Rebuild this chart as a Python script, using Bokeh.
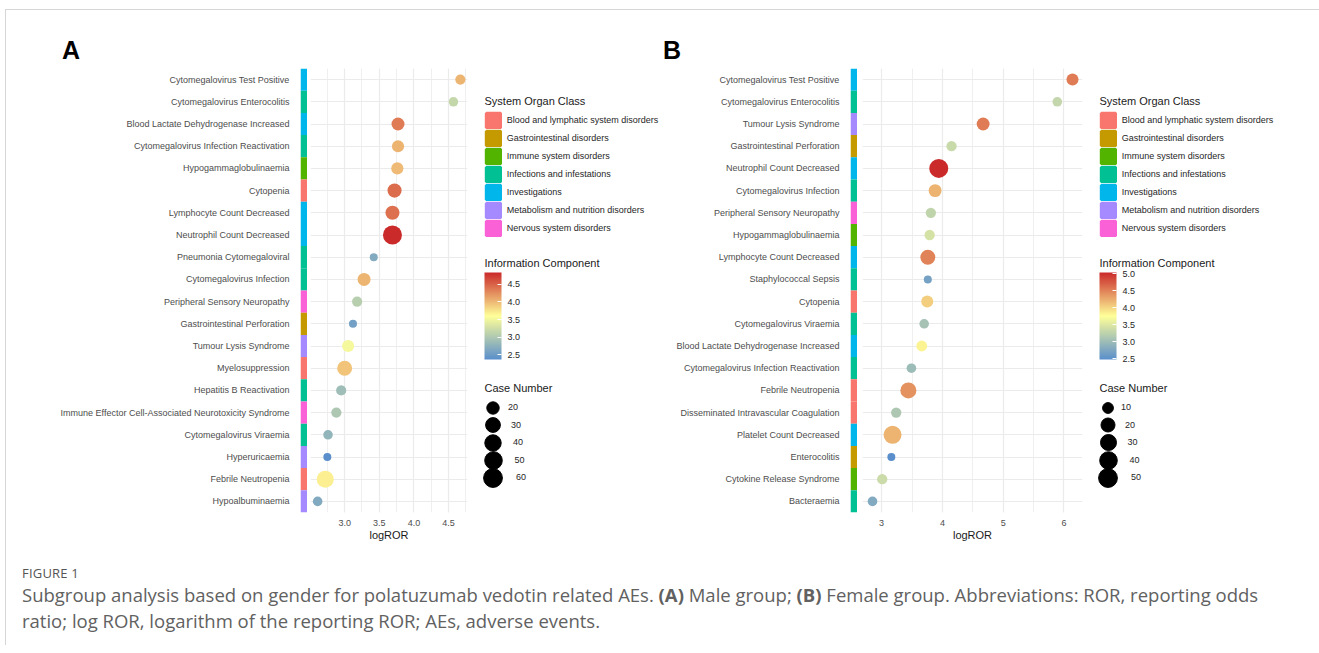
import numpy as np
from bokeh.plotting import figure
from bokeh.models import (FactorRange, Range1d, ColumnDataSource, ColorBar, FixedTicker,
                          PrintfTickFormatter, Legend, LegendItem, Label, CategoricalTicker,
                          SingleIntervalTicker, Div, CDSView, IndexFilter)
from bokeh.layouts import row, column
from bokeh.transform import factor_cmap, linear_cmap
from bokeh.embed import file_html
from bokeh.resources import INLINE

FONT = "Liberation Sans"

# ---------------- data ----------------
soc_classes = ["Blood and lymphatic system disorders", "Gastrointestinal disorders",
               "Immune system disorders", "Infections and infestations", "Investigations",
               "Metabolism and nutrition disorders", "Nervous system disorders"]
soc_colors = ["#F8766D", "#C49A00", "#53B400", "#00C094", "#00B6EB", "#A58AFF", "#FB61D7"]

terms_A = ["Cytomegalovirus Test Positive", "Cytomegalovirus Enterocolitis",
           "Blood Lactate Dehydrogenase Increased", "Cytomegalovirus Infection Reactivation",
           "Hypogammaglobulinaemia", "Cytopenia", "Lymphocyte Count Decreased",
           "Neutrophil Count Decreased", "Pneumonia Cytomegaloviral", "Cytomegalovirus Infection",
           "Peripheral Sensory Neuropathy", "Gastrointestinal Perforation", "Tumour Lysis Syndrome",
           "Myelosuppression", "Hepatitis B Reactivation",
           "Immune Effector Cell-Associated Neurotoxicity Syndrome", "Cytomegalovirus Viraemia",
           "Hyperuricaemia", "Febrile Neutropenia", "Hypoalbuminaemia"]
logror_A = [4.67, 4.57, 3.77, 3.77, 3.76, 3.72, 3.69, 3.69, 3.42, 3.28,
            3.18, 3.12, 3.05, 3.00, 2.95, 2.88, 2.76, 2.75, 2.72, 2.61]
ic_A = [4.03, 3.16, 4.35, 4.04, 4.00, 4.44, 4.42, 4.83, 2.68, 4.03,
        3.08, 2.56, 3.53, 3.94, 2.88, 2.99, 2.79, 2.37, 3.69, 2.66]
cases_A = [14, 13, 22, 19, 19, 27, 27, 61, 12, 22, 14, 12, 19, 32, 14, 14, 13, 12, 45, 13]
soc_A = ["Investigations", "Infections and infestations", "Investigations",
         "Infections and infestations", "Immune system disorders",
         "Blood and lymphatic system disorders", "Investigations", "Investigations",
         "Infections and infestations", "Infections and infestations", "Nervous system disorders",
         "Gastrointestinal disorders", "Metabolism and nutrition disorders",
         "Blood and lymphatic system disorders", "Infections and infestations",
         "Nervous system disorders", "Infections and infestations",
         "Metabolism and nutrition disorders", "Blood and lymphatic system disorders",
         "Metabolism and nutrition disorders"]
ic_ticks_A = [2.5, 3.0, 3.5, 4.0, 4.5]
size_breaks_A = [20, 30, 40, 50, 60]

terms_B = ["Cytomegalovirus Test Positive", "Cytomegalovirus Enterocolitis", "Tumour Lysis Syndrome",
           "Gastrointestinal Perforation", "Neutrophil Count Decreased", "Cytomegalovirus Infection",
           "Peripheral Sensory Neuropathy", "Hypogammaglobulinaemia", "Lymphocyte Count Decreased",
           "Staphylococcal Sepsis", "Cytopenia", "Cytomegalovirus Viraemia",
           "Blood Lactate Dehydrogenase Increased", "Cytomegalovirus Infection Reactivation",
           "Febrile Neutropenia", "Disseminated Intravascular Coagulation",
           "Platelet Count Decreased", "Enterocolitis", "Cytokine Release Syndrome", "Bacteraemia"]
logror_B = [6.14, 5.89, 4.67, 4.15, 3.94, 3.88, 3.81, 3.79, 3.76, 3.76,
            3.75, 3.70, 3.66, 3.49, 3.44, 3.24, 3.18, 3.16, 3.01, 2.85]
ic_B = [4.54, 3.30, 4.54, 3.34, 5.04, 4.21, 3.27, 3.43, 4.50, 2.68,
        4.06, 3.07, 3.82, 2.99, 4.41, 3.12, 4.21, 2.48, 3.35, 2.79]
cases_B = [13, 8, 16, 9, 52, 16, 9, 9, 25, 7, 13, 8, 10, 8, 31, 9, 44, 7, 9, 8]
soc_B = ["Investigations", "Infections and infestations", "Metabolism and nutrition disorders",
         "Gastrointestinal disorders", "Investigations", "Infections and infestations",
         "Nervous system disorders", "Immune system disorders", "Investigations",
         "Infections and infestations", "Blood and lymphatic system disorders",
         "Infections and infestations", "Investigations", "Infections and infestations",
         "Blood and lymphatic system disorders", "Blood and lymphatic system disorders",
         "Investigations", "Gastrointestinal disorders", "Immune system disorders",
         "Infections and infestations"]
ic_ticks_B = [2.5, 3.0, 3.5, 4.0, 4.5, 5.0]
size_breaks_B = [10, 20, 30, 40, 50]

panel_letters = ["A", "B"]
caption_label = "FIGURE 1"
caption_text = ("Subgroup analysis based on gender for polatuzumab vedotin related AEs. "
                "<b>(A)</b> Male group; <b>(B)</b> Female group. Abbreviations: ROR, reporting odds"
                "<br>ratio; log ROR, logarithm of the reporting ROR; AEs, adverse events.")


# ---------------- helpers ----------------
def lerp_palette(stops, n=256):
    rgb = [tuple(int(s[i:i + 2], 16) for i in (1, 3, 5)) for s in stops]
    k = len(rgb) - 1
    out = []
    for j in range(n):
        t = j / (n - 1) * k
        i = min(int(t), k - 1)
        f = t - i
        c = [round(rgb[i][m] + (rgb[i + 1][m] - rgb[i][m]) * f) for m in range(3)]
        out.append("#%02x%02x%02x" % tuple(c))
    return out


PAL = lerp_palette(["#5A8FCC", "#FFFF99", "#CB2A2A"])
R1, R2 = 8.0, 19.0


def size_scale(n, nmin, nmax):
    n = np.asarray(n, float)
    return R1 + (R2 - R1) * np.sqrt(np.clip((n - nmin) / (nmax - nmin), 0, 1))


FIG_H = 492          # figures start at page y = 68
B_TOP = 0
B_BOT = 48
FRAME_BOTTOM = 512   # page y of the frame bottom


def fy(page_y):
    return FRAME_BOTTOM - page_y


def make_panel(terms, logror, ic, cases, soc, ic_ticks, size_breaks, x_major, fmt,
               strip_border, main_gap, main_frame_w, leg_w):
    factors = list(reversed(terms))
    nmin, nmax = min(cases), max(cases)
    src = ColumnDataSource(dict(term=terms, logror=logror, ic=ic, cases=cases, soc=soc,
                                size=size_scale(cases, nmin, nmax)))

    # ---- strip + category labels ----
    sf = figure(width=strip_border + 7, height=FIG_H, x_range=Range1d(0, 1),
                y_range=FactorRange(factors=factors), x_axis_location=None,
                toolbar_location=None, output_backend="svg", min_border_left=strip_border,
                min_border_right=0, min_border_top=B_TOP, min_border_bottom=B_BOT,
                outline_line_color=None)
    sf.hbar(y="term", left=0, right=1, height=1, source=src, line_color=None,
            fill_color=factor_cmap("soc", soc_colors, soc_classes))
    sf.xgrid.visible = False
    sf.ygrid.visible = False
    ax = sf.yaxis[0]
    ax.axis_line_color = None
    ax.major_tick_line_color = None
    ax.major_label_text_font_size = "9px"
    ax.major_label_text_font = FONT
    ax.major_label_text_color = "#4d4d4d"
    ax.major_label_standoff = 5

    # ---- main dot plot ----
    lo, hi = min(logror), max(logror)
    span = hi - lo
    mf = figure(width=main_gap + main_frame_w + 5, height=FIG_H,
                x_range=Range1d(lo - 0.05 * span, hi + 0.05 * span),
                y_range=FactorRange(factors=factors), y_axis_location=None,
                toolbar_location=None, output_backend="svg", min_border_left=main_gap,
                min_border_right=5, min_border_top=B_TOP, min_border_bottom=B_BOT,
                outline_line_color=None)
    ticker = SingleIntervalTicker(interval=x_major, num_minor_ticks=2)
    mf.xaxis.ticker = ticker
    mf.xgrid.ticker = ticker
    mf.xgrid.grid_line_color = "#EBEBEB"
    mf.xgrid.grid_line_width = 1.2
    mf.xgrid.minor_grid_line_color = "#EFEFEF"
    mf.xgrid.minor_grid_line_width = 1.0
    mf.ygrid.ticker = CategoricalTicker()
    mf.ygrid.grid_line_color = "#EBEBEB"
    mf.ygrid.grid_line_width = 1.2
    mapper = linear_cmap("ic", PAL, min(ic), max(ic))
    mf.scatter(x="logror", y="term", size="size", source=src, fill_color=mapper,
               line_color=None)
    xa = mf.xaxis[0]
    xa.axis_label = "logROR"
    xa.formatter = PrintfTickFormatter(format=fmt)
    xa.axis_line_color = None
    xa.major_tick_line_color = None
    xa.minor_tick_line_color = None
    xa.major_label_text_font_size = "9px"
    xa.major_label_text_font = FONT
    xa.major_label_text_color = "#4d4d4d"
    xa.major_label_standoff = 1
    xa.axis_label_text_font_size = "11px"
    xa.axis_label_text_font = FONT
    xa.axis_label_text_font_style = "normal"
    xa.axis_label_text_color = "#1a1a1a"
    xa.axis_label_standoff = 0

    # ---- legends ----
    # data ranges of this figure are [0, 1]; legend-key renderers take one real row
    # (logROR > 2) so they fall outside the frame and only show up in the legends.
    lf = figure(width=leg_w, height=FIG_H, x_range=Range1d(0, 1), y_range=Range1d(0, 1),
                x_axis_location=None, y_axis_location=None, toolbar_location=None,
                output_backend="svg", min_border_left=0, min_border_right=0,
                min_border_top=B_TOP, min_border_bottom=B_BOT, outline_line_color=None)
    lf.xgrid.visible = False
    lf.ygrid.visible = False
    KX = 12  # visible key left, relative to legend figure
    one = CDSView(filter=IndexFilter(indices=[0]))

    for txt, py in (("System Organ Class", 100), ("Information Component", 262),
                    ("Case Number", 387)):
        lf.add_layout(Label(x=KX, y=fy(py), x_units="screen", y_units="screen", text=txt,
                            text_font=FONT, text_font_size="11px", text_baseline="middle",
                            text_color="#1a1a1a"))

    # area legend glyphs are inset by 10% of the box on each side; a same-colour
    # outline of width LW grows the key back to ~17 px
    GB, LW = 18, 3
    edge = GB * 0.1 - LW / 2
    soc_rs = [lf.rect(x="logror", y="ic", width=0.01, height=0.01, source=src, view=one,
                      fill_color=c, line_color=c, line_width=LW) for c in soc_colors]
    box_top = 111 - edge
    box_bottom = box_top + 7 * GB
    soc_leg = Legend(items=[LegendItem(label=s, renderers=[r]) for s, r in zip(soc_classes, soc_rs)],
                     location=(KX - edge, fy(box_bottom)), orientation="vertical",
                     glyph_width=GB, glyph_height=GB, label_height=GB, spacing=0, padding=0,
                     margin=0, label_standoff=5, label_text_font_size="9px",
                     label_text_font=FONT, label_text_color="#262626",
                     border_line_color=None, background_fill_alpha=0)
    lf.add_layout(soc_leg)

    cb = ColorBar(color_mapper=mapper["transform"], ticker=FixedTicker(ticks=ic_ticks),
                  formatter=PrintfTickFormatter(format="%.1f"), width=17, height=87,
                  location=(KX, fy(359)), padding=0, margin=0,
                  major_label_text_font_size="9px", major_label_text_font=FONT,
                  major_label_text_color="#262626", label_standoff=6,
                  major_tick_line_color="white", major_tick_in=4, major_tick_out=0,
                  bar_line_color=None, border_line_color=None, background_fill_alpha=0)
    lf.add_layout(cb)

    rs = lf.scatter(x="logror", y="ic", size=1, color="black", source=src, view=one)
    cx = KX + 8.5
    for i, b in enumerate(size_breaks):
        d = float(size_scale(b, nmin, nmax))
        g = int(round(d / 0.4))
        cy = 407.3 + i * 17.5
        leg = Legend(items=[LegendItem(label=str(b), renderers=[rs])],
                     location=(cx - g / 2, fy(cy) - g / 2), glyph_width=g, glyph_height=g,
                     label_height=g, padding=0, margin=0, spacing=0,
                     label_standoff=int(round(14 - g / 2)), label_text_font_size="9px",
                     label_text_font=FONT, label_text_color="#262626",
                     border_line_color=None, background_fill_alpha=0)
        lf.add_layout(leg)
    return sf, mf, lf


sfA, mfA, lfA = make_panel(terms_A, logror_A, ic_A, cases_A, soc_A, ic_ticks_A,
                           size_breaks_A, 0.5, "%.1f", 294, 3, 157, 190)
sfB, mfB, lfB = make_panel(terms_B, logror_B, ic_B, cases_B, soc_B, ic_ticks_B,
                           size_breaks_B, 1.0, "%d", 188, 5, 220, 232)

letters = Div(text=('<div style="position:relative;width:1313px;height:58px;'
                    'font-family:\'Liberation Sans\',sans-serif;font-weight:bold;'
                    'font-size:25px;line-height:25px;color:#000;">'
                    '<span style="position:absolute;left:56px;top:28px;">' + panel_letters[0] + '</span>'
                    '<span style="position:absolute;left:657px;top:28px;">' + panel_letters[1] + '</span>'
                    '</div>'), width=1313, height=58, margin=0)

cap = Div(text=('<div style="font-family:\'Open Sans\',sans-serif;color:#616161;'
                'padding:4px 0 0 16px;">'
                '<div style="font-size:13px;line-height:18px;letter-spacing:0.2px;color:#555;">'
                + caption_label + '</div>'
                '<div style="font-size:18.5px;line-height:26px;">' + caption_text + '</div></div>'),
          width=1313, height=85, margin=0)

layout = column(letters, row(sfA, mfA, lfA, sfB, mfB, lfB), cap,
                styles={"border-top": "1px solid #d6d6d6", "border-left": "1px solid #d6d6d6",
                        "margin-left": "5px", "margin-top": "9px"})

open("out.html", "w").write(file_html(layout, INLINE))
